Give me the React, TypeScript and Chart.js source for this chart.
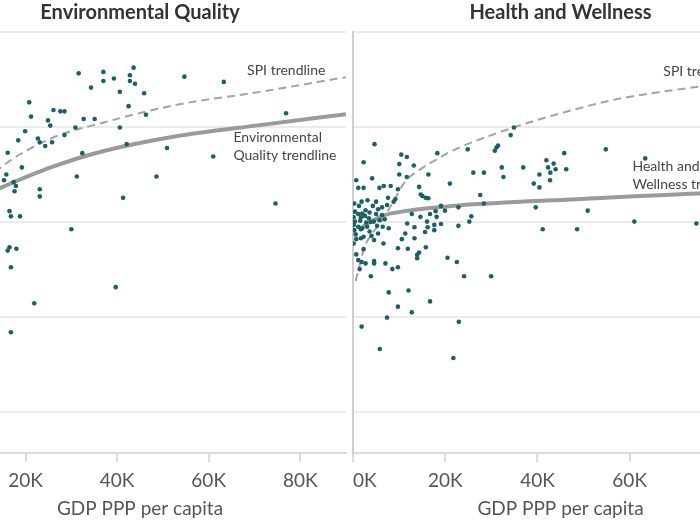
import React, { useEffect, useRef } from "react";
import { Chart, registerables } from "chart.js";

Chart.register(...registerables);

// ---------- shared axis data ----------
const leftTickValues = [0, 20, 40, 60, 80]; // GDP in thousands
const rightTickValues = [0, 20, 40, 60, 80, 90]; // 90 = unlabeled end of the axis
const yGridValues = [20, 40, 60, 80, 100];
const xMin = 0;
const xMax = 90;
const yMin = 11.4;
const yMax = 100;
const xAxisTitle = "GDP PPP per capita";

// ---------- Environmental Quality panel ----------
const envTitle = "Environmental Quality";
const envGdp = [
  31.6, 37.0, 37.0, 39.3, 42.8, 43.6, 42.8, 43.9, 34.3, 40.6, 45.9, 20.8, 42.5, 26.1, 27.6, 28.5,
  21.2, 24.9, 32.7, 35.1, 46.3, 25.4, 30.9, 40.6, 19.9, 28.5, 22.7, 18.4, 23.1, 25.8, 24.3, 42.1,
  50.9, 32.4, 16.1, 19.2, 15.8, 31.2, 48.6, 15.3, 17.4, 17.9, 17.6, 23.1, 23.1, 41.3, 54.7, 63.3,
  76.9, 61.0, 74.6, 16.5, 16.8, 18.8, 30.0, 16.5, 16.1, 18.0, 16.8, 39.7, 21.9, 16.8,
];
const envScore = [
  91.3, 91.6, 89.7, 90.2, 90.9, 92.5, 89.7, 89.1, 88.3, 87.4, 87.1, 85.2, 84.4, 83.6, 83.3, 83.3,
  82.2, 81.4, 81.7, 81.7, 82.6, 80.3, 79.9, 79.9, 79.1, 78.3, 77.6, 77.2, 76.8, 76.8, 76.0, 76.4,
  75.6, 74.5, 74.6, 71.5, 70.0, 69.6, 69.6, 68.8, 68.4, 67.6, 66.5, 66.9, 65.4, 65.1, 90.6, 89.5,
  82.9, 73.8, 63.9, 62.3, 61.2, 61.2, 58.5, 54.7, 54.0, 54.4, 50.5, 46.3, 42.9, 36.8,
];
const envSpiTrendGdp = [11.3, 15.0, 25.8, 36.5, 52.6, 71.2, 90.0];
const envSpiTrendValue = [68.5, 71.8, 77.7, 80.8, 84.6, 87.4, 90.5];
const envTrendGdp = [11.3, 15.0, 25.8, 36.5, 52.6, 71.2, 90.0];
const envTrendValue = [65.8, 67.4, 71.6, 74.8, 78.0, 80.4, 82.7];
const envSpiLabel = ["SPI trendline"];
const envSpiLabelAt = [68.4, 91.8];
const envTrendLabel = ["Environmental", "Quality trendline"];
const envTrendLabelAt = [65.4, 77.7];

// ---------- Health and Wellness panel ----------
const healthTitle = "Health and Wellness";
const healthGdp = [
  4.67, 10.47, 11.68, 18.28, 2.3, 10.04, 13.18, 10.04, 11.68, 16.34, 4.15, 0.71, 21.01, 1.14, 2.3, 5.74,
  6.67, 8.17, 9.74, 14.34, 14.69, 15.05, 15.76, 16.34, 7.59, 9.18, 8.82, 1.87, 3.16, 5.01, 0.28, 1.29,
  4.3, 6.3, 7.38, 19.08, 5.44, 2.73, 0.43, 3.59, 1.14, 2.0, 5.01, 12.75, 16.71, 17.91, 19.94, 6.3,
  0.15, 1.72, 2.58, 3.44, 5.74, 6.88, 0.43, 1.57, 2.86, 3.87, 4.52, 14.62, 18.13, 16.06, 11.76, 19.08,
  0.15, 1.14, 2.0, 3.08, 5.23, 6.45, 17.63, 16.19, 7.74, 13.33, 0.28, 1.72, 3.59, 5.44, 11.33, 15.63,
  17.63, 0.58, 2.3, 4.02, 0.71, 1.72, 4.58, 10.6, 13.33, 0.15, 6.6, 9.74, 11.89, 15.8, 2.3, 0.71,
  1.14, 1.87, 2.73, 4.58, 4.58, 7.03, 8.54, 9.74, 13.91, 14.34, 13.91, 1.44, 3.87, 20.49, 22.52, 24.09,
  29.96, 7.74, 12.04, 9.74, 16.71, 12.75, 7.38, 1.87, 22.95, 5.81, 21.78, 34.9, 34.19, 24.88, 30.75, 31.12,
  31.46, 45.81, 54.84, 63.38, 41.94, 43.51, 26.09, 28.39, 32.26, 32.62, 36.92, 42.3, 43.94, 46.24, 40.43, 42.8,
  42.73, 39.2, 40.43, 27.59, 22.86, 28.39, 39.63, 50.9, 25.66, 25.23, 22.86, 41.14, 48.6, 61.01, 74.47,
];
const healthScore = [
  76.4, 74.2, 73.7, 74.5, 72.6, 72.2, 71.9, 70.0, 69.5, 70.0, 69.2, 68.8, 68.1, 67.2, 67.2, 67.2,
  67.6, 67.6, 66.9, 67.4, 65.8, 65.5, 65.1, 65.0, 65.1, 64.8, 64.3, 64.3, 64.6, 64.3, 63.9, 63.4,
  63.4, 63.1, 63.6, 63.4, 62.7, 62.5, 62.2, 62.0, 61.7, 61.8, 61.7, 61.7, 61.7, 62.3, 62.4, 61.5,
  61.0, 61.0, 61.3, 60.8, 60.4, 60.6, 60.1, 60.3, 59.9, 60.0, 60.1, 61.1, 61.1, 60.1, 59.7, 59.6,
  59.4, 59.0, 58.7, 59.0, 59.2, 59.0, 59.4, 58.9, 58.7, 58.9, 58.3, 58.5, 58.0, 57.6, 57.6, 57.9,
  58.3, 57.4, 56.9, 57.1, 56.4, 56.6, 56.2, 56.4, 56.6, 55.5, 55.5, 54.5, 54.4, 54.7, 54.3, 53.2,
  52.0, 51.6, 51.3, 51.8, 51.3, 51.3, 50.1, 50.5, 53.1, 53.6, 52.4, 50.1, 48.6, 52.5, 51.6, 48.6,
  48.6, 45.2, 45.6, 42.2, 43.3, 41.0, 39.9, 38.0, 39.0, 33.3, 31.4, 79.9, 78.3, 75.3, 75.0, 75.7,
  76.1, 74.5, 75.3, 73.4, 73.0, 72.3, 70.4, 70.4, 71.5, 69.5, 71.5, 71.5, 71.1, 71.1, 70.0, 70.4,
  68.8, 68.1, 67.3, 65.7, 63.1, 63.9, 63.1, 62.4, 61.2, 60.1, 59.2, 58.5, 58.5, 60.1, 59.7,
];
const healthSpiTrendGdp = [0.55, 1.3, 2.4, 4.2, 6.3, 8.5, 11.3, 14.9, 18.5, 22.2, 34.8, 46.2, 56.9, 74.8, 90.0];
const healthSpiTrendValue = [47.6, 50.3, 54.5, 57.6, 60.4, 63.9, 68.5, 71.3, 73.4, 75.3, 79.9, 83.2, 85.8, 88.5, 90.4];
const healthTrendGdp = [1.29, 3.44, 7.03, 10.6, 16.3, 22.8, 48.6, 74.8, 90.0];
const healthTrendValue = [58.3, 59.9, 61.5, 62.2, 62.9, 63.5, 64.8, 66.0, 66.4];
const healthSpiLabel = ["SPI trendline"];
const healthSpiLabelAt = [67.3, 91.6];
const healthTrendLabel = ["Health and", "Wellness trendline"];
const healthTrendLabelAt = [60.6, 71.6];

const FONT = "Lato, 'Open Sans', sans-serif";

type Note = { lines: string[]; at: number[] };

const pairs = (xs: number[], ys: number[]) => xs.map((x, i) => ({ x, y: ys[i] }));

function Panel(props: {
  title: string;
  gdp: number[];
  score: number[];
  spiGdp: number[];
  spiVal: number[];
  trendGdp: number[];
  trendVal: number[];
  notes: Note[];
  ticks: number[];
  left: number;
  width: number;
  yAxisWidth: number;
  showBorder: boolean;
  tickAlign: string;
}) {
  const ref = useRef<HTMLCanvasElement>(null);
  useEffect(() => {
    if (!ref.current) return;
    const notesPlugin = {
      id: "notes",
      afterDatasetsDraw(chart: any) {
        const ctx = chart.ctx;
        const xs = chart.scales.x;
        const ys = chart.scales.y;
        ctx.save();
        ctx.font = `14px ${FONT}`;
        ctx.fillStyle = "#454545";
        ctx.textAlign = "left";
        ctx.textBaseline = "middle";
        props.notes.forEach((n) => {
          const px = xs.getPixelForValue(n.at[0]);
          const py = ys.getPixelForValue(n.at[1]);
          n.lines.forEach((line, i) => ctx.fillText(line, px, py + i * 18));
        });
        ctx.restore();
      },
    };
    const chart = new Chart(ref.current, {
      type: "scatter",
      data: {
        datasets: [
          {
            data: pairs(props.gdp, props.score),
            backgroundColor: "#1d5f66",
            borderColor: "#1d5f66",
            pointRadius: 2.3,
            borderWidth: 0,
            order: 0,
          },
          {
            data: pairs(props.trendGdp, props.trendVal),
            showLine: true,
            borderColor: "#9a9a9a",
            borderWidth: 4,
            pointRadius: 0,
            cubicInterpolationMode: "monotone",
            order: 1,
          },
          {
            data: pairs(props.spiGdp, props.spiVal),
            showLine: true,
            borderColor: "#a3a3a3",
            borderWidth: 2,
            borderDash: [8, 5],
            pointRadius: 0,
            cubicInterpolationMode: "monotone",
            order: 2,
          },
        ] as any,
      },
      options: {
        animation: false,
        responsive: false,
        layout: { padding: 0 },
        plugins: {
          legend: { display: false },
          tooltip: { enabled: false },
          title: {
            display: true,
            text: props.title,
            color: "#333333",
            font: { family: FONT, size: 20, weight: "bold" },
            padding: { top: 1, bottom: 7 },
          },
        },
        scales: {
          x: {
            type: "linear",
            min: xMin,
            max: xMax,
            afterBuildTicks: (s: any) => {
              s.ticks = props.ticks.map((v) => ({ value: v }));
            },
            afterFit: (s: any) => {
              s.height = 72;
              s.paddingLeft = 0;
              s.paddingRight = 0;
            },
            ticks: {
              color: "#555555",
              font: { family: FONT, size: 19 },
              padding: 7,
              autoSkip: false,
              maxRotation: 0,
              align: props.tickAlign,
              callback: (v: any) => (v === xMax ? "" : `${v}K`),
            },
            grid: {
              drawOnChartArea: false,
              drawTicks: true,
              tickLength: 9,
              color: "#dcdcdc",
              lineWidth: 2,
            },
            border: { display: true, color: "#dcdcdc", width: 2 },
            title: {
              display: true,
              text: xAxisTitle,
              color: "#555555",
              font: { family: FONT, size: 19 },
              padding: { top: 0, bottom: 5 },
            },
          },
          y: {
            type: "linear",
            min: yMin,
            max: yMax,
            afterBuildTicks: (s: any) => {
              s.ticks = yGridValues.map((v) => ({ value: v }));
            },
            afterFit: (s: any) => {
              s.width = props.yAxisWidth;
              s.paddingTop = 0;
              s.paddingBottom = 0;
            },
            ticks: { display: false },
            grid: { drawTicks: false, color: "#ebebeb", lineWidth: 2 },
            border: { display: props.showBorder, color: "#cfcfcf", width: 2 },
          },
        },
      } as any,
      plugins: [notesPlugin],
    });
    return () => chart.destroy();
  }, []);
  return (
    <canvas
      ref={ref}
      width={props.width}
      height={525}
      style={{ position: "absolute", left: props.left, top: 0, width: props.width, height: 525 }}
    />
  );
}

export default function App() {
  return (
    <div
      style={{
        position: "fixed",
        left: 0,
        top: 0,
        width: 700,
        height: 525,
        overflow: "hidden",
        background: "#ffffff",
      }}
    >
      <Panel
        title={envTitle}
        gdp={envGdp}
        score={envScore}
        spiGdp={envSpiTrendGdp}
        spiVal={envSpiTrendValue}
        trendGdp={envTrendGdp}
        trendVal={envTrendValue}
        notes={[
          { lines: envSpiLabel, at: envSpiLabelAt },
          { lines: envTrendLabel, at: envTrendLabelAt },
        ]}
        ticks={leftTickValues}
        left={-70}
        width={420}
        yAxisWidth={0}
        showBorder={false}
        tickAlign="center"
      />
      <Panel
        title={healthTitle}
        gdp={healthGdp}
        score={healthScore}
        spiGdp={healthSpiTrendGdp}
        spiVal={healthSpiTrendValue}
        trendGdp={healthTrendGdp}
        trendVal={healthTrendValue}
        notes={[
          { lines: healthSpiLabel, at: healthSpiLabelAt },
          { lines: healthTrendLabel, at: healthTrendLabelAt },
        ]}
        ticks={rightTickValues}
        left={349}
        width={423}
        yAxisWidth={3}
        showBorder={true}
        tickAlign="inner"
      />
    </div>
  );
}
